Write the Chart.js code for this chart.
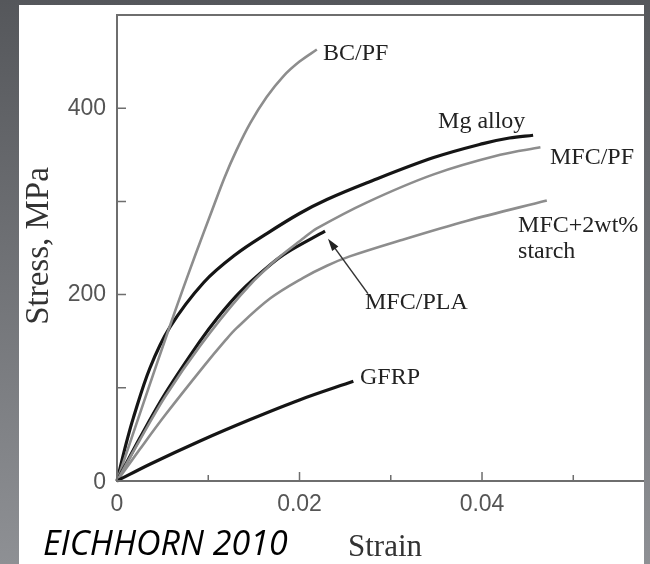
<!DOCTYPE html>
<html>
<head>
<meta charset="utf-8">
<script src="https://cdn.jsdelivr.net/npm/chart.js@4/dist/chart.umd.min.js"></script>
<style>
  html, body { margin: 0; padding: 0; }
  body {
    width: 650px; height: 564px; overflow: hidden; position: relative;
    background: linear-gradient(to bottom, #55575b, #8e9094);
  }
  #paper { position: absolute; left: 19px; top: 5px; width: 625px; height: 559px; background: #fff; }
  #chart { position: absolute; left: 0; top: 0; }
  #credit {
    position: absolute; left: 43px; top: 525px;
    font: italic 34px/34px "Open Sans", "Liberation Sans", sans-serif; color: #000;
  }
</style>
</head>
<body>
<div id="paper"></div>
<canvas id="chart" width="650" height="564"></canvas>
<div id="credit">EICHHORN 2010</div>
<script>
// Stress-strain curves: [strain, stress MPa]
const bcPf = [[0, 0], [0.0034, 98], [0.0055, 158], [0.0073, 208], [0.0086, 243], [0.0104, 290],
  [0.0118, 326], [0.0131, 355], [0.0146, 384], [0.0164, 412], [0.0182, 434], [0.02, 450], [0.0219, 463]];
const mgAlloy = [[0, 0], [0.001, 40], [0.0018, 68], [0.0036, 121], [0.0058, 165], [0.0095, 213],
  [0.013, 243], [0.0165, 266], [0.02, 287], [0.023, 302], [0.0274, 320], [0.0347, 347],
  [0.0401, 362], [0.043, 368], [0.0456, 371]];
const mfcPla = [[0, 0], [0.0025, 46], [0.0053, 94], [0.0091, 150], [0.011, 175], [0.0135, 203],
  [0.0168, 232], [0.0186, 245], [0.0228, 268]];
const mfcPf = [[0, 0], [0.0025, 44], [0.0053, 91], [0.0091, 145], [0.0135, 199], [0.0168, 232],
  [0.0205, 261], [0.0219, 271], [0.0274, 299], [0.0347, 329], [0.042, 350], [0.0464, 358]];
const mfcStarch = [[0, 0], [0.0025, 34], [0.0053, 71], [0.0095, 123], [0.0118, 150], [0.0131, 164],
  [0.0168, 196], [0.0204, 218], [0.023, 231], [0.0255, 241], [0.031, 258], [0.0383, 279], [0.0471, 301]];
const gfrp = [[0, 0], [0.0036, 18], [0.0091, 43], [0.0146, 66], [0.02, 87], [0.0259, 107]];

const xTicks = [0.01, 0.02, 0.03, 0.04, 0.05];
const xTickLabels = [[0, "0"], [0.02, "0.02"], [0.04, "0.04"]];
const yTicks = [100, 200, 300, 400];
const yTickLabels = [[0, "0"], [200, "200"], [400, "400"]];

// curve names placed next to the curves (strain, stress of left/middle point)
const notes = [
  ["BC/PF", 0.02258, 459],
  ["Mg alloy", 0.03518, 385],
  ["MFC/PF", 0.04745, 347],
  ["MFC+2wt%", 0.04395, 274],
  ["starch", 0.04395, 246],
  ["MFC/PLA", 0.02718, 191],
  ["GFRP", 0.02663, 111]
];
const arrowFrom = [0.0275, 201];
const arrowTo = [0.02312, 260];

const BLACK = "#151515";
const GREY = "#8d8d8d";

function curve(pts, color, width) {
  return {
    data: pts.map(p => ({ x: p[0], y: p[1] })),
    borderColor: color,
    borderWidth: width,
    showLine: true,
    pointRadius: 0,
    tension: 0.35,
    clip: 4
  };
}

const frame = {
  id: "frame",
  afterDatasetsDraw(chart) {
    const { ctx, chartArea: a, scales: { x, y } } = chart;
    ctx.save();
    ctx.strokeStyle = "#6e6e6e";
    ctx.lineWidth = 2;
    ctx.beginPath();
    ctx.moveTo(a.right, a.top);
    ctx.lineTo(a.left, a.top);
    ctx.lineTo(a.left, a.bottom);
    ctx.lineTo(a.right, a.bottom);
    ctx.stroke();

    // inward ticks
    ctx.lineWidth = 1.5;
    ctx.beginPath();
    xTicks.forEach(v => {
      const px = x.getPixelForValue(v);
      const len = (Math.round(v * 100) % 2 === 0) ? 9 : 6;
      ctx.moveTo(px, a.bottom);
      ctx.lineTo(px, a.bottom - len);
    });
    yTicks.forEach(v => {
      const py = y.getPixelForValue(v);
      ctx.moveTo(a.left, py);
      ctx.lineTo(a.left + 9, py);
    });
    ctx.stroke();

    // tick labels
    ctx.fillStyle = "#555";
    ctx.font = '23px "Liberation Sans", Arial, sans-serif';
    ctx.textBaseline = "middle";
    ctx.textAlign = "right";
    yTickLabels.forEach(([v, t]) => ctx.fillText(t, a.left - 11, y.getPixelForValue(v) + (v === 0 ? 2 : 0)));
    ctx.textAlign = "center";
    xTickLabels.forEach(([v, t]) => ctx.fillText(t, x.getPixelForValue(v), a.bottom + 24));

    // axis titles
    ctx.fillStyle = "#333";
    ctx.font = '31px "Liberation Serif", "Times New Roman", serif';
    ctx.fillText("Strain", 385, 548);
    ctx.save();
    ctx.translate(39, 246);
    ctx.rotate(-Math.PI / 2);
    ctx.font = '33px "Liberation Serif", "Times New Roman", serif';
    ctx.fillText("Stress, MPa", 0, 0);
    ctx.restore();

    // curve names
    ctx.fillStyle = "#222";
    ctx.font = '24px "Liberation Serif", "Times New Roman", serif';
    ctx.textAlign = "left";
    notes.forEach(([t, sx, sy]) => ctx.fillText(t, x.getPixelForValue(sx), y.getPixelForValue(sy)));

    // arrow to MFC/PLA end
    const x0 = x.getPixelForValue(arrowFrom[0]), y0 = y.getPixelForValue(arrowFrom[1]);
    const x1 = x.getPixelForValue(arrowTo[0]), y1 = y.getPixelForValue(arrowTo[1]);
    const ang = Math.atan2(y1 - y0, x1 - x0);
    ctx.strokeStyle = "#333";
    ctx.lineWidth = 1.5;
    ctx.beginPath();
    ctx.moveTo(x0, y0);
    ctx.lineTo(x1 - 8 * Math.cos(ang), y1 - 8 * Math.sin(ang));
    ctx.stroke();
    ctx.fillStyle = "#222";
    ctx.beginPath();
    ctx.moveTo(x1, y1);
    ctx.lineTo(x1 - 13 * Math.cos(ang - 0.3), y1 - 13 * Math.sin(ang - 0.3));
    ctx.lineTo(x1 - 13 * Math.cos(ang + 0.3), y1 - 13 * Math.sin(ang + 0.3));
    ctx.closePath();
    ctx.fill();
    ctx.restore();
  }
};

new Chart(document.getElementById("chart"), {
  type: "scatter",
  data: {
    datasets: [
      curve(gfrp, BLACK, 3.2),
      curve(mfcStarch, GREY, 2.6),
      curve(mfcPf, GREY, 2.6),
      curve(mfcPla, BLACK, 3.2),
      curve(bcPf, GREY, 2.6),
      curve(mgAlloy, BLACK, 3.2)
    ]
  },
  options: {
    responsive: false,
    animation: false,
    devicePixelRatio: 1,
    layout: { padding: { left: 117, right: 6, top: 15, bottom: 83 } },
    plugins: { legend: { display: false }, tooltip: { enabled: false } },
    scales: {
      x: { type: "linear", min: 0, max: 0.05775, display: false },
      y: { type: "linear", min: 0, max: 500, display: false }
    }
  },
  plugins: [frame]
});
</script>
</body>
</html>
